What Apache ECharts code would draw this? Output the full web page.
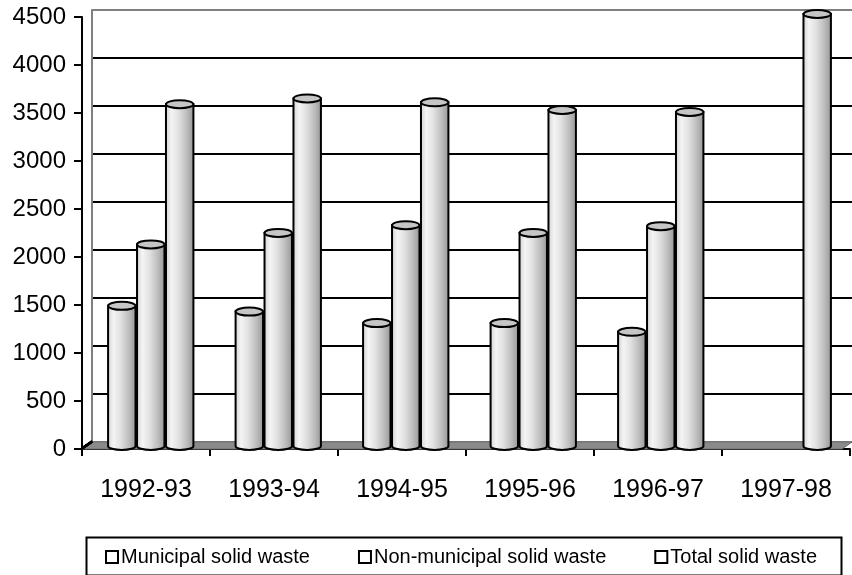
<!DOCTYPE html>
<html>
<head>
<meta charset="utf-8">
<script src="https://cdn.jsdelivr.net/npm/echarts@6/dist/echarts.min.js"></script>
<style>
  html, body { margin: 0; padding: 0; background: #fff; }
  #chart { width: 852px; height: 575px; }
</style>
</head>
<body>
<div id="chart"></div>
<script>
// Solid waste generated per year (thousand tonnes)
const categories = ['1992-93', '1993-94', '1994-95', '1995-96', '1996-97', '1997-98'];
const municipal = [1460, 1400, 1280, 1280, 1190, null];
const nonMunicipal = [2100, 2220, 2300, 2220, 2290, null];
const total = [3560, 3620, 3580, 3500, 3480, 4500];
const seriesNames = ['Municipal solid waste', 'Non-municipal solid waste', 'Total solid waste'];
const yMax = 4500;
const yStep = 500;

const FONT = '"Liberation Sans", Arial, sans-serif';
const DEPTH_X = 10, DEPTH_Y = 7;   // oblique offset between front axis and back wall

const chart = echarts.init(document.getElementById('chart'), null, { renderer: 'canvas' });

// shaded cylinder body
function bodyFill() {
  return new echarts.graphic.LinearGradient(0, 0, 1, 0, [
    { offset: 0, color: '#cfcfcf' },
    { offset: 0.22, color: '#f4f4f4' },
    { offset: 0.45, color: '#e2e2e2' },
    { offset: 0.75, color: '#bcbcbc' },
    { offset: 1, color: '#939393' }
  ]);
}

function cylinderRenderer(slotIndex) {
  return function (params, api) {
    const v = api.value(1);
    if (v == null || isNaN(v)) return;
    const cat = api.value(0);
    const top = api.coord([cat, v]);
    const base = api.coord([cat, 0]);
    const catW = api.size([1, 0])[0];
    const slot = catW * 0.227;
    const w = slot - 1.5;
    const cx = top[0] + (slotIndex - 1) * slot;
    const rx = w / 2, ry = 4;
    const l = cx - rx, r = cx + rx;
    const ty = top[1], by = base[1];
    return {
      type: 'group',
      children: [
        {
          type: 'path',
          shape: {
            pathData: 'M ' + l + ' ' + ty + ' L ' + l + ' ' + by +
              ' A ' + rx + ' ' + ry + ' 0 0 0 ' + r + ' ' + by +
              ' L ' + r + ' ' + ty + ' Z'
          },
          style: { fill: bodyFill(), stroke: '#000', lineWidth: 2 }
        },
        {
          type: 'ellipse',
          shape: { cx: cx, cy: ty, rx: rx, ry: ry },
          style: { fill: '#c6c6c6', stroke: '#000', lineWidth: 2 }
        }
      ]
    };
  };
}

function toPairs(arr) {
  return arr.map(function (v, i) { return [i, v]; });
}

const tickValues = [];
for (let v = 0; v <= yMax; v += yStep) tickValues.push(v);

// back-wall split line colours: floor edge and top edge grey, the rest black
const splitColors = tickValues.map(function (v) {
  return (v === 0 || v === yMax) ? '#808080' : '#000000';
});

const option = {
  animation: false,
  backgroundColor: '#ffffff',
  grid: [
    { left: 92, top: 10, right: -8, bottom: 133 },   // back wall
    { left: 82, top: 17, right: 2, bottom: 126 },    // front axes
    { left: 87, top: 14, right: -3, bottom: 129 }    // cylinders (mid depth)
  ],
  xAxis: [
    {
      gridIndex: 0, type: 'category', data: categories, position: 'top',
      axisLine: { show: true, lineStyle: { color: '#808080', width: 2 } },
      axisTick: { show: false }, axisLabel: { show: false }, splitLine: { show: false }
    },
    {
      gridIndex: 1, type: 'category', data: categories,
      axisLine: { show: true, lineStyle: { color: '#000', width: 2 } },
      axisTick: { show: true, length: 7, lineStyle: { color: '#000', width: 2 } },
      axisLabel: { color: '#000', fontFamily: FONT, fontSize: 25, margin: 29 },
      splitLine: { show: false }
    },
    {
      gridIndex: 2, type: 'category', data: categories, show: false
    }
  ],
  yAxis: [
    {
      gridIndex: 0, type: 'value', min: 0, max: yMax, interval: yStep,
      axisLine: { show: true, lineStyle: { color: '#808080', width: 2 } },
      axisTick: { show: false }, axisLabel: { show: false },
      splitLine: { show: true, lineStyle: { color: splitColors, width: 2 } }
    },
    {
      gridIndex: 1, type: 'value', min: 0, max: yMax, interval: yStep,
      axisLine: { show: true, lineStyle: { color: '#000', width: 2 } },
      axisTick: { show: true, length: 8, lineStyle: { color: '#000', width: 2 } },
      axisLabel: {
        color: '#000', fontFamily: FONT, fontSize: 24, margin: 16,
        formatter: function (v) { return String(v); }
      },
      splitLine: { show: false }
    },
    {
      gridIndex: 2, type: 'value', min: 0, max: yMax, interval: yStep, show: false
    }
  ],
  legend: {
    data: seriesNames,
    left: 100, top: 542,
    icon: 'rect', itemWidth: 12, itemHeight: 12, itemGap: 48,
    itemStyle: { color: '#fff', borderColor: '#000', borderWidth: 2 },
    textStyle: { color: '#000', fontFamily: FONT, fontSize: 20, padding: [0, 0, 0, -2] },
    selectedMode: false
  },
  graphic: [
    {
      type: 'rect', left: 84, top: 535, z: 0,
      shape: { width: 755, height: 38 },
      style: { fill: 'none', stroke: '#000', lineWidth: 2 }
    }
  ],
  series: [
    // floor slab and the oblique connectors between front ticks and back wall
    {
      type: 'custom', xAxisIndex: 0, yAxisIndex: 0, silent: true, z: 1,
      data: tickValues,
      renderItem: function (params, api) {
        const v = api.value(0);
        const cs = params.coordSys;
        const p = api.coord([0, v]);
        const y = p[1];
        const x0 = cs.x;
        const children = [];
        if (v === 0) {
          children.push({
            type: 'polygon',
            shape: { points: [[x0, y], [x0 + cs.width, y], [x0 + cs.width - DEPTH_X, y + DEPTH_Y], [x0 - DEPTH_X, y + DEPTH_Y]] },
            style: { fill: '#8a8a8a', stroke: '#6e6e6e', lineWidth: 1 }
          });
        } else {
          children.push({
            type: 'line',
            shape: { x1: x0 - DEPTH_X, y1: y + DEPTH_Y, x2: x0, y2: y },
            style: { stroke: v === yMax ? '#808080' : '#000', lineWidth: 2 }
          });
        }
        return { type: 'group', children: children };
      }
    },
    {
      name: seriesNames[0], type: 'custom', xAxisIndex: 2, yAxisIndex: 2, z: 3,
      itemStyle: { color: '#fff', borderColor: '#000' },
      data: toPairs(municipal), renderItem: cylinderRenderer(0)
    },
    {
      name: seriesNames[1], type: 'custom', xAxisIndex: 2, yAxisIndex: 2, z: 3,
      itemStyle: { color: '#fff', borderColor: '#000' },
      data: toPairs(nonMunicipal), renderItem: cylinderRenderer(1)
    },
    {
      name: seriesNames[2], type: 'custom', xAxisIndex: 2, yAxisIndex: 2, z: 3,
      itemStyle: { color: '#fff', borderColor: '#000' },
      data: toPairs(total), renderItem: cylinderRenderer(2)
    }
  ]
};

chart.setOption(option);
</script>
</body>
</html>
